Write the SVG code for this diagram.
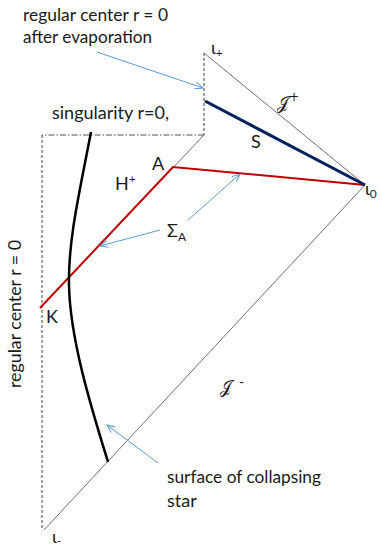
<svg xmlns="http://www.w3.org/2000/svg" width="382" height="550" viewBox="0 0 382 550">
<style>
text{font-family:Lato,"Liberation Sans",sans-serif;font-size:18px;fill:#1a1a1a}
.sub{font-size:12px}
.scr{font-family:"DejaVu Serif","DejaVu Sans",serif;font-size:17px}
.thin{fill:none;stroke:#6f6f6f;stroke-width:1}
.dash{fill:none;stroke:#404040;stroke-width:1;stroke-dasharray:3 2}
.dashdot{fill:none;stroke:#505050;stroke-width:1;stroke-dasharray:6 2 1.5 2}
.ptr{fill:none;stroke:#5B9BD5;stroke-width:1;marker-end:url(#ah)}
</style>
<defs>
<marker id="ah" viewBox="0 0 10 8" refX="9" refY="4" markerWidth="10" markerHeight="8" markerUnits="userSpaceOnUse" orient="auto">
<path d="M1,0.5 L9,4 L1,7.5" fill="none" stroke="#5B9BD5" stroke-width="1"/>
</marker>
</defs>
<rect width="382" height="550" fill="#ffffff"/>
<g id="connectors">
<line class="thin" x1="204" y1="53" x2="365" y2="185"/>
<line class="thin" x1="365" y1="185" x2="44" y2="530"/>
<line class="thin" x1="204" y1="135" x2="40" y2="308"/>
<line class="dash" x1="204" y1="53" x2="204" y2="135"/>
<line class="dashdot" x1="204" y1="135" x2="42" y2="135"/>
<line class="dash" x1="42" y1="135" x2="42" y2="530"/>
<path id="horizon" d="M40,308 L173,167 L365,185" fill="none" stroke="#C00000" stroke-width="2" stroke-linejoin="miter"/>
<line id="S-line" x1="205" y1="101" x2="365" y2="185" stroke="#002060" stroke-width="3"/>
<path id="star" d="M91,132 C80,190 68,240 69,285 C70,340 92,410 108,462" fill="none" stroke="#000" stroke-width="2.5"/>
<line class="ptr" x1="97" y1="52" x2="203" y2="88"/>
<line class="ptr" x1="160" y1="230" x2="100" y2="246"/>
<line class="ptr" x1="188" y1="220" x2="240" y2="174"/>
<line class="ptr" x1="158" y1="463" x2="107" y2="425"/>
</g>
<g id="label-top"><text x="23" y="21" textLength="145" lengthAdjust="spacingAndGlyphs">regular center r = 0</text><text x="23" y="43" textLength="129" lengthAdjust="spacingAndGlyphs">after evaporation</text></g>
<g id="label-sing"><text x="52" y="119" textLength="117" lengthAdjust="spacingAndGlyphs">singularity r=0,</text></g>
<g id="label-iplus"><text x="211" y="54">ι<tspan class="sub" dy="3">+</tspan></text></g>
<g id="label-i0"><text x="365" y="195">ι<tspan class="sub" dy="3">0</tspan></text></g>
<g id="label-iminus"><text x="52" y="543">ι<tspan class="sub" dy="2">-</tspan></text></g>
<g id="label-Jplus"><text class="scr" x="277" y="109">𝒥<tspan class="sub" dy="-8">+</tspan></text></g>
<g id="label-Jminus"><text class="scr" x="220" y="393">𝒥</text><text x="239" y="387" style="font-size:14px">-</text></g>
<g id="label-S"><text x="251" y="148">S</text></g>
<g id="label-A"><text x="152" y="170">A</text></g>
<g id="label-H"><text x="115" y="190">H<tspan class="sub" dy="-7">+</tspan></text></g>
<g id="label-Sigma"><text x="167" y="237">Σ<tspan class="sub" dy="4">A</tspan></text></g>
<g id="label-K"><text x="46" y="323">K</text></g>
<g id="label-center"><text transform="translate(21,388) rotate(-90)" textLength="148" lengthAdjust="spacingAndGlyphs">regular center r = 0</text></g>
<g id="label-surface"><text x="167" y="483" textLength="154" lengthAdjust="spacingAndGlyphs">surface of collapsing</text><text x="167" y="507">star</text></g>
</svg>
